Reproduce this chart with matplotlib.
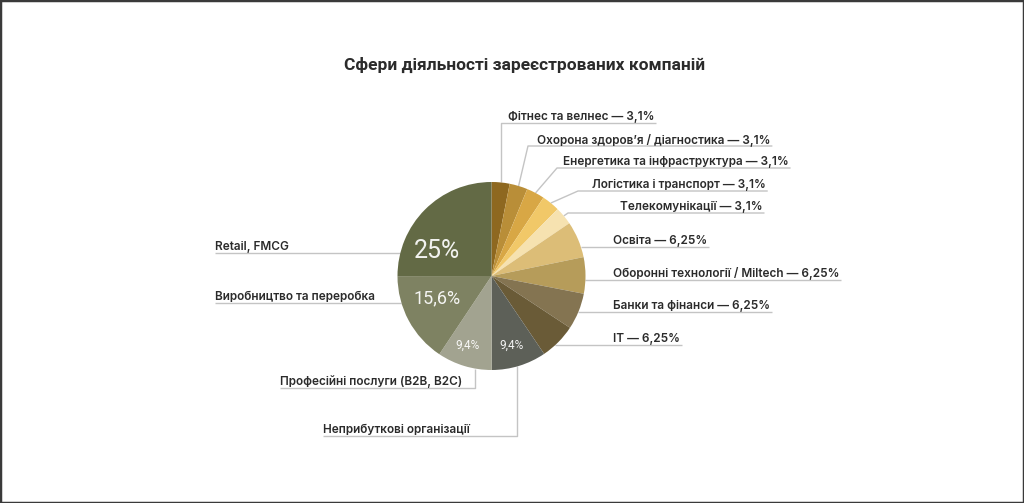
import math

import matplotlib
matplotlib.use("Agg")
import matplotlib.pyplot as plt
from matplotlib.patches import Rectangle

sectors = [
    "Фітнес та велнес",
    "Охорона здоров’я / діагностика",
    "Енергетика та інфраструктура",
    "Логістика і транспорт",
    "Телекомунікації",
    "Освіта",
    "Оборонні технології / Miltech",
    "Банки та фінанси",
    "IT",
    "Неприбуткові організації",
    "Професійні послуги (B2B, B2C)",
    "Виробництво та переробка",
    "Retail, FMCG",
]
shares = [3.1, 3.1, 3.1, 3.1, 3.1, 6.25, 6.25, 6.25, 6.25, 9.4, 9.4, 15.6, 25]
share_labels = ["3,1%", "3,1%", "3,1%", "3,1%", "3,1%", "6,25%", "6,25%", "6,25%",
                "6,25%", "9,4%", "9,4%", "15,6%", "25%"]
colors = ["#8e6820", "#b98e38", "#d8a745", "#f1c868", "#f6e2b0", "#dcbd77", "#b69c5a",
          "#847451", "#6a5b37", "#5d6058", "#a2a390", "#7e8262", "#636a45"]
title = "Сфери діяльності зареєстрованих компаній"

W, H = 1024, 503
CX, CY, R = 491.5, 276, 94
LINE = "#c4c4c4"
TXT = "#2b2b2b"
FONT = ["Roboto", "DejaVu Sans"]
LABEL_FONT = ["Inter", "Roboto", "DejaVu Sans"]


def py(y):
    return H - y


def edge_x(y, side):
    dy = y - CY
    return CX + side * math.sqrt(R * R - dy * dy)


def edge_y(x):
    dx = x - CX
    return CY + math.sqrt(R * R - dx * dx)


fig = plt.figure(figsize=(W / 100, H / 100), dpi=100)
ax = fig.add_axes([0, 0, 1, 1])
wedges, _ = ax.pie(shares, colors=colors, startangle=90, counterclock=False,
                   center=(CX, py(CY)), radius=R, wedgeprops=dict(linewidth=0))
ax.set_xlim(0, W)
ax.set_ylim(0, H)
ax.set_aspect("equal")
ax.axis("off")

ax.text(525, py(65), title, ha="center", va="center", fontsize=12.5,
        fontweight="bold", color=TXT, family=FONT)

# label layout: (text x, text y, kind, extra)
# kind "elbow": line from wedge middle to (extra, underline y)
# kind "edge": straight underline from pie edge
# kind "drop": vertical line at x=extra from pie edge down to underline
layout = [
    (508, 117, "elbow", None),
    (537, 140, "elbow", 528),
    (563, 162, "elbow", 557),
    (592, 185, "elbow", 578),
    (620, 207, "elbow", 568),
    (613, 241, "edge", 1),
    (613, 274, "edge", 1),
    (613, 306, "edge", 1),
    (613, 339, "edge", 1),
    (323, 430, "drop", 517),
    (280, 382, "drop", 475),
    (215, 297, "edge", -1),
    (215, 247, "edge", -1),
]

fig.canvas.draw()
renderer = fig.canvas.get_renderer()

for i, (tx, ty, kind, extra) in enumerate(layout):
    label = sectors[i]
    if i < 9:
        label = sectors[i] + " — " + share_labels[i]
    t = ax.text(tx, py(ty), label, ha="left", va="center", fontsize=8.5,
                fontweight="semibold", color=TXT, family=LABEL_FONT)
    bb = t.get_window_extent(renderer)
    uy = ty + 6
    if kind == "elbow":
        w = wedges[i]
        mid = math.radians((w.theta1 + w.theta2) / 2)
        ax_ = CX + R * math.cos(mid)
        ay_ = CY - R * math.sin(mid)
        ex = ax_ if extra is None else extra
        xs = [ax_, ex, bb.x1 + 2]
        ys = [ay_, uy, uy]
    elif kind == "edge":
        if extra > 0:
            xs = [edge_x(uy, 1), bb.x1 + 2]
        else:
            xs = [bb.x0, edge_x(uy, -1)]
        ys = [uy, uy]
    else:
        xs = [extra, extra, bb.x0]
        ys = [edge_y(extra), uy, uy]
    ax.plot(xs, [py(v) for v in ys], color=LINE, lw=1, solid_capstyle="butt", zorder=0)

# share values inside the biggest slices
inner = [(12, 437, 251, 18), (11, 437, 298, 13), (10, 468, 345, 8.5), (9, 511, 345, 8.5)]
for i, x, y, fs in inner:
    ax.text(x, py(y), share_labels[i], ha="center", va="center", fontsize=fs,
            color="white", alpha=0.92, family=FONT)

fig.patches.append(Rectangle((0, 0), 1, 1, transform=fig.transFigure, fill=False,
                             edgecolor="#3a3a3a", lw=2.5))

fig.savefig("out.png", dpi=100, facecolor="white")
